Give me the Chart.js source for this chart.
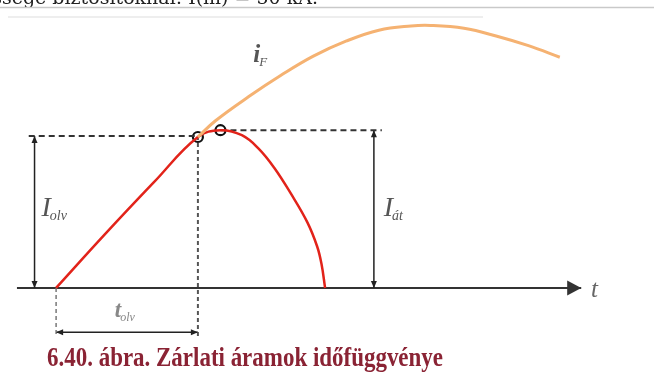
<!DOCTYPE html>
<html>
<head>
<meta charset="utf-8">
<script src="https://cdn.jsdelivr.net/npm/chart.js@4.4.1/dist/chart.umd.min.js"></script>
<style>
  html, body { margin: 0; padding: 0; background: #fff; }
  canvas { display: block; }
</style>
</head>
<body>
<canvas id="faultChart" width="654" height="374"></canvas>
<script>
// time in arbitrary units (t_olv = 10), current in % of the prospective peak
const limitedT = [0, 3.45, 6.9, 10, 11.59, 13.1, 14.28, 15.38, 16.55, 17.72, 18.41, 18.72, 18.97];
const limitedI = [0, 20.5, 40.3, 57.5, 60.1, 58.2, 53.1, 45.8, 36.0, 25.0, 15.8, 9.0, 0];
const prospectiveT = [10, 11.24, 13.59, 15.86, 18.14, 20.48, 22.76, 25.03, 26.41, 28.76, 31.03, 33.31, 35.52];
const prospectiveI = [57.5, 63.7, 72.9, 81.0, 88.3, 94.1, 98.2, 99.8, 100, 98.9, 96.0, 92.3, 87.9];

const meltT = 10;      // t_olv
const meltI = 57.9;    // I_olv
const cutT = 11.59;
const cutI = 60.1;     // I_át
const markT = [meltT, cutT];
const markI = [57.5, cutI];

const axisT = [-2.76, 37.03];
const belowAxisI = -18.4;
const dimI = -16.85;
const olvArrowT = -1.52;
const atArrowT = 22.41;

const zip = (xs, ys) => xs.map((x, k) => ({ x: x, y: ys[k] }));

// arrowheads on the end(s) of datasets that ask for them
const arrowHeads = {
  id: "arrowHeads",
  afterDatasetsDraw(chart) {
    const ctx = chart.ctx;
    chart.data.datasets.forEach((ds, idx) => {
      if (!ds.arrow) return;
      const pts = chart.getDatasetMeta(idx).data;
      const ends = ds.arrow === "both" ? [[1, 0], [pts.length - 2, pts.length - 1]] : [[pts.length - 2, pts.length - 1]];
      ends.forEach(([a, b]) => {
        const p0 = pts[a], p1 = pts[b];
        const ang = Math.atan2(p1.y - p0.y, p1.x - p0.x);
        const len = ds.arrowLength, half = ds.arrowWidth / 2;
        ctx.save();
        ctx.translate(p1.x, p1.y);
        ctx.rotate(ang);
        ctx.beginPath();
        ctx.moveTo(0, 0);
        ctx.lineTo(-len, -half);
        ctx.lineTo(-len, half);
        ctx.closePath();
        ctx.fillStyle = ds.borderColor;
        ctx.fill();
        ctx.restore();
      });
    });
  }
};

// symbol labels placed in data coordinates
const symbols = [
  { t: -1.03, i: 27.5, main: "I", sub: "olv", size: 28, color: "#555", bold: false },
  { t: 23.1, i: 27.5, main: "I", sub: "át", size: 28, color: "#555", bold: false },
  { t: 13.9, i: 86.0, main: "i", sub: "F", size: 25, color: "#555", bold: true },
  { t: 4.14, i: -11.0, main: "t", sub: "olv", size: 23, color: "#888", bold: true },
  { t: 37.72, i: -3.3, main: "t", sub: "", size: 25, color: "#666", bold: false }
];

const symbolLabels = {
  id: "symbolLabels",
  afterDatasetsDraw(chart) {
    const ctx = chart.ctx;
    const xs = chart.scales.x, ys = chart.scales.y;
    symbols.forEach(s => {
      const px = xs.getPixelForValue(s.t);
      const py = ys.getPixelForValue(s.i);
      ctx.save();
      ctx.fillStyle = s.color;
      ctx.textBaseline = "alphabetic";
      ctx.font = (s.bold ? "bold " : "") + "italic " + s.size + "px 'Liberation Serif', serif";
      ctx.fillText(s.main, px, py);
      const w = ctx.measureText(s.main).width;
      if (s.sub) {
        ctx.font = "italic " + Math.round(s.size * 0.5) + "px 'Liberation Serif', serif";
        ctx.fillText(s.sub, px + w - 1, py + 4);
      }
      ctx.restore();
    });
  }
};

// page decoration: clipped line of body text above, frame lines, caption below
const pageText = {
  id: "pageText",
  afterDraw(chart) {
    const ctx = chart.ctx;
    ctx.save();
    ctx.font = "19px 'DejaVu Serif', serif";
    ctx.fillStyle = "#222";
    ctx.textAlign = "right";
    ctx.fillText("megszakítóképessége biztosítóknál: I(m) = 50 kA.", 318, 4);

    ctx.strokeStyle = "#c9c9c9";
    ctx.lineWidth = 1.5;
    ctx.beginPath();
    ctx.moveTo(0, 7.5);
    ctx.lineTo(654, 7.5);
    ctx.stroke();
    ctx.strokeStyle = "#eeeeee";
    ctx.lineWidth = 2;
    ctx.beginPath();
    ctx.moveTo(8, 17);
    ctx.lineTo(483, 17);
    ctx.stroke();

    const caption = "6.40. ábra. Zárlati áramok időfüggvénye";
    ctx.font = "bold 27px 'Liberation Serif', serif";
    ctx.fillStyle = "#8a2334";
    ctx.textAlign = "left";
    const w = ctx.measureText(caption).width;
    ctx.translate(47, 366);
    ctx.scale(396 / w, 1);
    ctx.fillText(caption, 0, 0);
    ctx.restore();
  }
};

const dashed = { borderColor: "#333", borderWidth: 2, borderDash: [6, 4], pointRadius: 0, tension: 0 };
const dimension = { borderColor: "#222", borderWidth: 1.5, pointRadius: 0, tension: 0, arrow: "both", arrowLength: 7, arrowWidth: 6 };

new Chart(document.getElementById("faultChart").getContext("2d"), {
  type: "line",
  data: {
    datasets: [
      {
        label: "iF",
        data: zip(prospectiveT, prospectiveI),
        borderColor: "#f5b272",
        borderWidth: 3,
        tension: 0.4,
        pointRadius: 0
      },
      {
        label: "limited current",
        data: zip(limitedT, limitedI),
        borderColor: "#e2231a",
        borderWidth: 2.5,
        tension: 0.4,
        pointRadius: 0
      },
      Object.assign({ label: "Iolv level", data: [{ x: -1.93, y: meltI }, { x: meltT, y: meltI }] }, dashed),
      Object.assign({ label: "Iát level", data: [{ x: cutT, y: cutI }, { x: 22.97, y: cutI }] }, dashed),
      Object.assign({ label: "tolv mark", data: [{ x: meltT, y: meltI }, { x: meltT, y: belowAxisI }] }, dashed, { borderDash: [4, 3], borderColor: "#555" }),
      Object.assign({ label: "t0 mark", data: [{ x: 0, y: 0 }, { x: 0, y: belowAxisI }] }, dashed, { borderDash: [4, 3], borderColor: "#777", borderWidth: 1.5 }),
      Object.assign({ label: "Iolv", data: [{ x: olvArrowT, y: 0 }, { x: olvArrowT, y: meltI }] }, dimension),
      Object.assign({ label: "Iát", data: [{ x: atArrowT, y: 0 }, { x: atArrowT, y: cutI }] }, dimension),
      Object.assign({ label: "tolv", data: [{ x: 0, y: dimI }, { x: meltT, y: dimI }] }, dimension),
      {
        label: "t axis",
        data: [{ x: axisT[0], y: 0 }, { x: axisT[1], y: 0 }],
        borderColor: "#333",
        borderWidth: 2,
        pointRadius: 0,
        arrow: "end",
        arrowLength: 14,
        arrowWidth: 15
      },
      {
        label: "markers",
        data: zip(markT, markI),
        showLine: false,
        pointRadius: 5,
        pointBorderWidth: 2.2,
        pointBorderColor: "#111",
        pointBackgroundColor: ["rgba(0,0,0,0)", "#fff"]
      }
    ]
  },
  options: {
    responsive: false,
    animation: false,
    devicePixelRatio: 1,
    layout: { padding: 0 },
    scales: {
      x: { type: "linear", min: -3.448, max: 41.655, display: false },
      y: { type: "linear", min: -30.04, max: 106.96, display: false }
    },
    plugins: {
      legend: { display: false },
      tooltip: { enabled: false }
    }
  },
  plugins: [arrowHeads, symbolLabels, pageText]
});
</script>
</body>
</html>
